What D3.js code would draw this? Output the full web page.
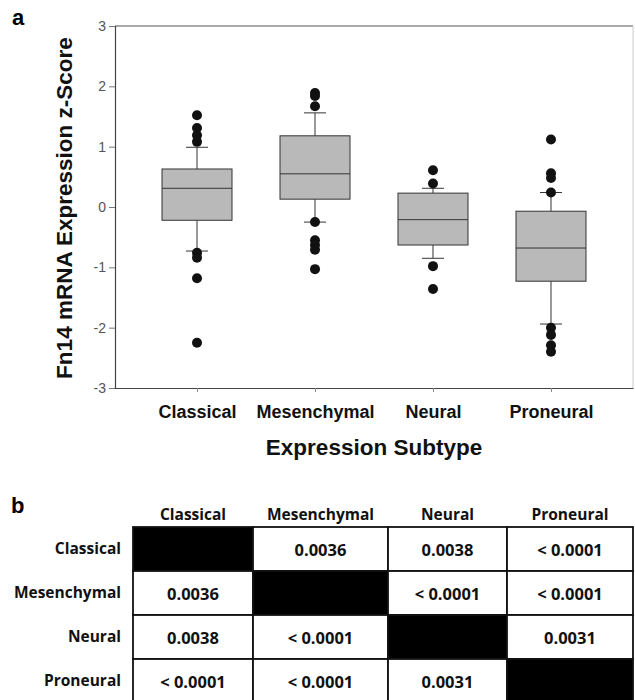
<!DOCTYPE html>
<html>
<head>
<meta charset="utf-8">
<script src="https://cdn.jsdelivr.net/npm/d3@7"></script>
<style>
  body { margin: 0; background: #fff; }
  svg { display: block; }
</style>
</head>
<body>
<svg id="chart"></svg>
<script>
// Chart data
var subtypes = ["Classical", "Mesenchymal", "Neural", "Proneural"];
var yTicks = [-3, -2, -1, 0, 1, 2, 3];

// box stats per subtype: lower whisker, Q1, median, Q3, upper whisker
var whiskerLow = [-0.73, -0.25, -0.85, -1.94];
var q1 = [-0.22, 0.13, -0.63, -1.23];
var median = [0.31, 0.55, -0.21, -0.68];
var q3 = [0.63, 1.18, 0.23, -0.07];
var whiskerHigh = [0.99, 1.56, 0.31, 0.24];

// outlier points per subtype
var outliers = [
    [1.52, 1.31, 1.19, 1.08, -0.76, -0.84, -1.18, -2.25],
    [1.89, 1.84, 1.67, -0.25, -0.55, -0.63, -0.71, -1.03],
    [0.61, 0.39, -0.98, -1.36],
    [1.12, 0.56, 0.48, 0.24, -2.0, -2.12, -2.29, -2.4]
];

// pairwise p-values (null on the diagonal)
var pValues = [
    [null, "0.0036", "0.0038", "< 0.0001"],
    ["0.0036", null, "< 0.0001", "< 0.0001"],
    ["0.0038", "< 0.0001", null, "0.0031"],
    ["< 0.0001", "< 0.0001", "0.0031", null]
];

var w = 635, h = 700;
var plot = { left: 115, right: 633, top: 26, bottom: 388 };

var svg = d3.select("#chart")
    .attr("width", w)
    .attr("height", h);

var x = d3.scalePoint()
    .domain(subtypes)
    .range([plot.left, plot.right])
    .padding(0.695);

var y = d3.scaleLinear()
    .domain([-3, 3])
    .range([plot.bottom, plot.top]);

// panel letters
svg.append("text").attr("x", 12).attr("y", 25)
    .style("font", "bold 22px 'Liberation Sans', Arial, sans-serif")
    .text("a");
svg.append("text").attr("x", 11).attr("y", 513)
    .style("font", "bold 22px 'Liberation Sans', Arial, sans-serif")
    .text("b");

// frame: top and right edges
svg.append("line")
    .attr("x1", plot.left).attr("x2", plot.right)
    .attr("y1", plot.top).attr("y2", plot.top)
    .attr("stroke", "#555").attr("stroke-width", 1);
svg.append("line")
    .attr("x1", plot.right).attr("x2", plot.right)
    .attr("y1", plot.top).attr("y2", plot.bottom)
    .attr("stroke", "#ccc").attr("stroke-width", 1);

// y axis
var yAxis = svg.append("g")
    .attr("transform", "translate(" + plot.left + ",0)")
    .call(d3.axisLeft(y).tickValues(yTicks).tickSize(6).tickPadding(3)
        .tickFormat(function (d) { return String(d); }));
yAxis.select(".domain").attr("stroke", "#444").attr("stroke-width", 1.2);
yAxis.selectAll(".tick line").attr("stroke", "#777");
yAxis.selectAll(".tick text")
    .attr("fill", "#555")
    .style("font", "14px 'Liberation Sans', Arial, sans-serif");

// x axis
var xAxis = svg.append("g")
    .attr("transform", "translate(0," + plot.bottom + ")")
    .call(d3.axisBottom(x).tickSize(4).tickPadding(13).tickSizeOuter(0));
xAxis.select(".domain").attr("stroke", "#444").attr("stroke-width", 1.2);
xAxis.selectAll(".tick line").attr("stroke", "#888");
xAxis.selectAll(".tick text")
    .attr("fill", "#111")
    .style("font", "bold 18px 'Liberation Sans', Arial, sans-serif");

// axis titles
svg.append("text")
    .attr("transform", "translate(72," + ((plot.top + plot.bottom) / 2 + 1) + ") rotate(-90)")
    .attr("text-anchor", "middle")
    .attr("fill", "#111")
    .style("font", "bold 22.5px 'Liberation Sans', Arial, sans-serif")
    .text("Fn14 mRNA Expression z-Score");

svg.append("text")
    .attr("x", (plot.left + plot.right) / 2)
    .attr("y", 455)
    .attr("text-anchor", "middle")
    .attr("fill", "#111")
    .style("font", "bold 22.5px 'Liberation Sans', Arial, sans-serif")
    .text("Expression Subtype");

// boxes
var boxW = 70, capW = 22;
var stats = subtypes.map(function (s, i) {
    return { name: s, lo: whiskerLow[i], q1: q1[i], med: median[i], q3: q3[i], hi: whiskerHigh[i], out: outliers[i] };
});

var boxes = svg.selectAll(".box")
    .data(stats)
    .enter().append("g")
    .attr("class", "box");

// whiskers
boxes.append("line")
    .attr("x1", d => x(d.name)).attr("x2", d => x(d.name))
    .attr("y1", d => y(d.q3)).attr("y2", d => y(d.hi))
    .attr("stroke", "#333");
boxes.append("line")
    .attr("x1", d => x(d.name)).attr("x2", d => x(d.name))
    .attr("y1", d => y(d.q1)).attr("y2", d => y(d.lo))
    .attr("stroke", "#333");
boxes.append("line")
    .attr("x1", d => x(d.name) - capW / 2).attr("x2", d => x(d.name) + capW / 2)
    .attr("y1", d => y(d.hi)).attr("y2", d => y(d.hi))
    .attr("stroke", "#333");
boxes.append("line")
    .attr("x1", d => x(d.name) - capW / 2).attr("x2", d => x(d.name) + capW / 2)
    .attr("y1", d => y(d.lo)).attr("y2", d => y(d.lo))
    .attr("stroke", "#333");

boxes.append("rect")
    .attr("x", d => x(d.name) - boxW / 2)
    .attr("width", boxW)
    .attr("y", d => y(d.q3))
    .attr("height", d => y(d.q1) - y(d.q3))
    .attr("fill", "#b9b9b9")
    .attr("stroke", "#333")
    .attr("stroke-width", 1);

boxes.append("line")
    .attr("x1", d => x(d.name) - boxW / 2).attr("x2", d => x(d.name) + boxW / 2)
    .attr("y1", d => y(d.med)).attr("y2", d => y(d.med))
    .attr("stroke", "#333");

// outliers
boxes.selectAll("circle")
    .data(d => d.out.map(v => ({ name: d.name, v: v })))
    .enter().append("circle")
    .attr("cx", d => x(d.name))
    .attr("cy", d => y(d.v))
    .attr("r", 5)
    .attr("fill", "#111");

// table of p-values
var colEdges = [133, 253, 388, 507, 633];
var rowTop = 527, rowH = 44;
var labelFont = "bold 15.5px 'Open Sans', 'Noto Sans', sans-serif";
var valueFont = "bold 16.5px 'Open Sans', 'Noto Sans', sans-serif";

var table = svg.append("g").attr("class", "table");

// header labels
table.selectAll(".colhead")
    .data(subtypes)
    .enter().append("text")
    .attr("x", (d, i) => (colEdges[i] + colEdges[i + 1]) / 2)
    .attr("y", 520)
    .attr("text-anchor", "middle")
    .attr("fill", "#111")
    .style("font", labelFont)
    .text(d => d);

// row labels
table.selectAll(".rowhead")
    .data(subtypes)
    .enter().append("text")
    .attr("x", 121)
    .attr("y", (d, i) => rowTop + i * rowH + rowH / 2)
    .attr("dy", "0.35em")
    .attr("text-anchor", "end")
    .attr("fill", "#111")
    .style("font", labelFont)
    .text(d => d);

var cells = [];
pValues.forEach(function (row, r) {
    row.forEach(function (v, c) { cells.push({ r: r, c: c, v: v }); });
});

table.selectAll("rect.cell")
    .data(cells)
    .enter().append("rect")
    .attr("class", "cell")
    .attr("x", d => colEdges[d.c])
    .attr("y", d => rowTop + d.r * rowH)
    .attr("width", d => colEdges[d.c + 1] - colEdges[d.c])
    .attr("height", rowH)
    .attr("fill", d => d.v === null ? "#000" : "#fff")
    .attr("stroke", "#111")
    .attr("stroke-width", 1.8);

table.selectAll("text.val")
    .data(cells.filter(d => d.v !== null))
    .enter().append("text")
    .attr("class", "val")
    .attr("x", d => (colEdges[d.c] + colEdges[d.c + 1]) / 2)
    .attr("y", d => rowTop + d.r * rowH + rowH / 2 + 1)
    .attr("dy", "0.35em")
    .attr("text-anchor", "middle")
    .attr("fill", "#111")
    .style("font", valueFont)
    .text(d => d.v);
</script>
</body>
</html>
